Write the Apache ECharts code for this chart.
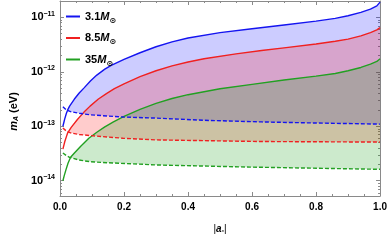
<!DOCTYPE html>
<html>
<head>
<meta charset="utf-8">
<script src="https://cdn.jsdelivr.net/npm/echarts@6/dist/echarts.min.js"></script>
<style>
html,body{margin:0;padding:0;background:#fff;}
#c{width:390px;height:240px;}
</style>
</head>
<body>
<div id="c"></div>
<script>
// values: [ |a*| , log10(m_A / eV) ]
const masses = ['3.1', '8.5', '35'];
const blueUpper = [[0.009,-13.0],[0.012,-12.93],[0.015,-12.86],[0.02,-12.76],[0.024,-12.70],[0.03,-12.63],[0.045,-12.50],[0.06,-12.39],[0.076,-12.29],[0.095,-12.17],[0.115,-12.06],[0.14,-11.95],[0.16,-11.88],[0.2,-11.77],[0.25,-11.65],[0.3,-11.54],[0.35,-11.45],[0.4,-11.38],[0.5,-11.28],[0.6,-11.21],[0.7,-11.14],[0.8,-11.07],[0.86,-11.02],[0.9,-10.97],[0.94,-10.91],[0.97,-10.85],[0.99,-10.79],[1.0,-10.72]];
const blueLower = [[0.009,-12.64],[0.02,-12.70],[0.033,-12.73],[0.06,-12.76],[0.094,-12.79],[0.197,-12.83],[0.3,-12.85],[0.45,-12.89],[0.63,-12.92],[0.8,-12.94],[1.0,-12.96]];
const redUpper = [[0.009,-13.42],[0.012,-13.35],[0.015,-13.28],[0.02,-13.19],[0.024,-13.12],[0.035,-13.02],[0.055,-12.87],[0.075,-12.74],[0.094,-12.63],[0.12,-12.50],[0.145,-12.40],[0.17,-12.31],[0.2,-12.22],[0.25,-12.09],[0.3,-11.98],[0.35,-11.89],[0.4,-11.82],[0.45,-11.76],[0.55,-11.67],[0.63,-11.61],[0.7,-11.56],[0.8,-11.49],[0.86,-11.44],[0.9,-11.40],[0.94,-11.34],[0.97,-11.28],[0.99,-11.23],[1.0,-11.19]];
const redLower = [[0.009,-13.03],[0.02,-13.09],[0.033,-13.12],[0.06,-13.15],[0.094,-13.17],[0.197,-13.22],[0.3,-13.25],[0.63,-13.28],[1.0,-13.29]];
const greenUpper = [[0.009,-14.0],[0.013,-13.91],[0.018,-13.81],[0.025,-13.68],[0.033,-13.57],[0.045,-13.49],[0.064,-13.37],[0.09,-13.22],[0.115,-13.11],[0.14,-13.01],[0.167,-12.92],[0.2,-12.82],[0.25,-12.69],[0.3,-12.58],[0.35,-12.49],[0.4,-12.42],[0.5,-12.31],[0.6,-12.23],[0.7,-12.15],[0.8,-12.08],[0.86,-12.03],[0.9,-11.98],[0.94,-11.92],[0.97,-11.86],[0.99,-11.81],[1.0,-11.76]];
const greenLower = [[0.009,-13.49],[0.02,-13.54],[0.03,-13.57],[0.06,-13.62],[0.094,-13.65],[0.15,-13.67],[0.23,-13.69],[0.3,-13.71],[0.45,-13.73],[0.6,-13.75],[0.8,-13.77],[1.0,-13.79]];
// where upper and lower bounds meet
const blueCross = [0.021, -12.71];
const redCross = [0.025, -13.11];
const greenCross = [0.032, -13.575];
const xTicks = [0, 0.2, 0.4, 0.6, 0.8, 1.0];
const yDecades = [-14, -13, -12, -11];

const BLUE = '#1414f0', RED = '#f02020', GREEN = '#22a022';
const FONT = 'Liberation Sans';
const yMin = -14.28, yMax = -10.70;
const minorY = [];
for (let n = -15; n <= -11; n++) for (let k = 2; k <= 9; k++) {
  const v = n + Math.log10(k);
  if (v > yMin && v < yMax) minorY.push(v);
}

function fillSeries(upper, lower, cross, color) {
  return {
    type: 'custom', coordinateSystem: 'cartesian2d', xAxisIndex: 0, yAxisIndex: 0,
    data: [[0.5, -12]], z: 1, silent: true, clip: true,
    renderItem: function (params, api) {
      const pts = [api.coord(cross)];
      upper.filter(p => p[0] > cross[0]).forEach(p => pts.push(api.coord(p)));
      lower.filter(p => p[0] > cross[0]).slice().reverse().forEach(p => pts.push(api.coord(p)));
      return { type: 'polygon', shape: { points: pts }, style: { fill: color, stroke: null } };
    }
  };
}
function lineSeries(name, data, color, dashed) {
  return {
    type: 'line', name: name, data: data, showSymbol: false, symbol: 'none', z: 3,
    smooth: false,
    lineStyle: { color: color, width: 1.4, type: dashed ? [4, 2] : 'solid' },
    itemStyle: { color: color }, silent: true
  };
}

const gray = '#8a8a8a';
const xBase = {
  type: 'value', min: 0, max: 1, interval: 0.2,
  axisLine: { show: true, lineStyle: { color: gray, width: 1 } },
  axisTick: { show: true, inside: true, length: 4, lineStyle: { color: gray } },
  minorTick: { show: true, splitNumber: 4, length: 2, lineStyle: { color: gray } },
  splitLine: { show: false }
};
const yBase = {
  type: 'value', min: yMin, max: yMax,
  splitLine: { show: false },
  axisLine: { show: true, lineStyle: { color: gray, width: 1 } }
};

const option = {
  animation: false,
  grid: { left: 52, right: 9, top: 1, bottom: 37 },
  legend: {
    orient: 'vertical', left: 61, top: 6, itemGap: 8,
    icon: 'rect', itemWidth: 14, itemHeight: 2,
    data: masses,
    formatter: function (name) { return '{n|' + name + '}{m|M}{s|⊙}'; },
    textStyle: {
      fontFamily: FONT, fontWeight: 'bold', fontSize: 11, color: '#000',
      rich: {
        n: { fontFamily: FONT, fontWeight: 'bold', fontSize: 11, color: '#000' },
        m: { fontFamily: FONT, fontWeight: 'bold', fontStyle: 'italic', fontSize: 11, color: '#000' },
        s: { fontFamily: 'DejaVu Sans', fontSize: 8, color: '#000', padding: [8, 0, 0, 0] }
      }
    }
  },
  xAxis: [
    Object.assign({}, xBase, {
      position: 'bottom',
      axisLabel: { show: true, margin: 6, fontFamily: FONT, fontWeight: 'bold', fontSize: 10, color: '#000',
        customValues: xTicks, formatter: v => v.toFixed(1) },
      name: '{t||}{a|a}{s|*}{t||}', nameLocation: 'middle', nameGap: 28,
      nameTextStyle: { color: '#000', rich: {
        t: { fontFamily: FONT, fontSize: 10, color: '#000' },
        a: { fontFamily: FONT, fontWeight: 'bold', fontStyle: 'italic', fontSize: 10, color: '#000' },
        s: { fontFamily: FONT, fontSize: 6, color: '#000', padding: [5, 0, 0, 0] }
      } }
    }),
    Object.assign({}, xBase, { position: 'top', axisLabel: { show: false } })
  ],
  yAxis: [
    Object.assign({}, yBase, {
      position: 'left',
      axisTick: { show: true, inside: true, length: 4, customValues: yDecades, lineStyle: { color: gray } },
      axisLabel: { show: true, margin: 5, customValues: yDecades,
        formatter: v => '{b|10}{s|−' + Math.abs(Math.round(v)) + '}',
        rich: {
          b: { fontFamily: FONT, fontWeight: 'bold', fontSize: 11, color: '#000' },
          s: { fontFamily: FONT, fontWeight: 'bold', fontSize: 7, color: '#000', padding: [0, 0, 7, 0] }
        } },
      name: '{m|m}{s|A}{t| (eV)}', nameLocation: 'middle', nameGap: 36, nameRotate: 90,
      nameTextStyle: { color: '#000', padding: [0, 0, 0, -26], rich: {
        m: { fontFamily: FONT, fontWeight: 'bold', fontStyle: 'italic', fontSize: 11, color: '#000' },
        s: { fontFamily: FONT, fontWeight: 'bold', fontStyle: 'italic', fontSize: 7, color: '#000', padding: [6, 0, 0, 0] },
        t: { fontFamily: FONT, fontWeight: 'bold', fontSize: 11, color: '#000' }
      } }
    }),
    Object.assign({}, yBase, {
      position: 'left', axisLine: { show: false },
      axisTick: { show: true, inside: true, length: 2, customValues: minorY, lineStyle: { color: gray } },
      axisLabel: { show: false }
    }),
    Object.assign({}, yBase, {
      position: 'right',
      axisTick: { show: true, inside: true, length: 4, customValues: yDecades, lineStyle: { color: gray } },
      axisLabel: { show: false }
    }),
    Object.assign({}, yBase, {
      position: 'right', axisLine: { show: false },
      axisTick: { show: true, inside: true, length: 2, customValues: minorY, lineStyle: { color: gray } },
      axisLabel: { show: false }
    })
  ],
  series: [
    fillSeries(blueUpper, blueLower, blueCross, 'rgba(0,0,255,0.2)'),
    fillSeries(redUpper, redLower, redCross, 'rgba(255,0,0,0.2)'),
    fillSeries(greenUpper, greenLower, greenCross, 'rgba(0,150,0,0.2)'),
    lineSeries(masses[0], blueUpper, BLUE, false),
    lineSeries(masses[1], redUpper, RED, false),
    lineSeries(masses[2], greenUpper, GREEN, false),
    lineSeries('bd', blueLower, BLUE, true),
    lineSeries('rd', redLower, RED, true),
    lineSeries('gd', greenLower, GREEN, true)
  ]
};
const chart = echarts.init(document.getElementById('c'), null, { renderer: 'canvas' });
chart.setOption(option);
</script>
</body>
</html>
